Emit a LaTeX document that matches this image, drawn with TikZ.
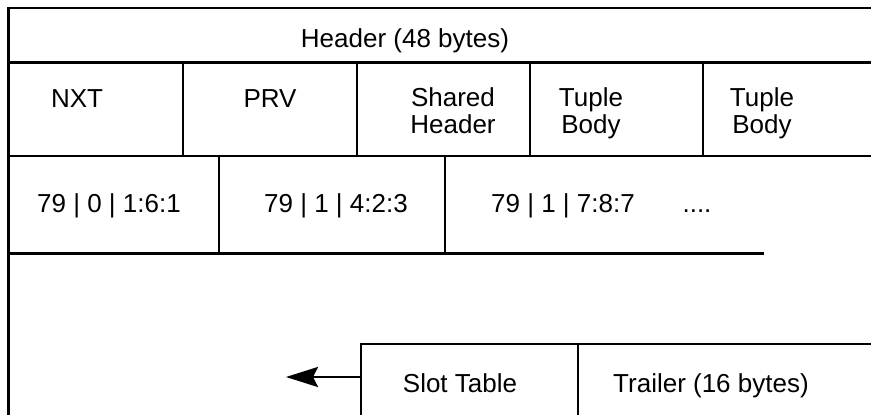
\documentclass[tikz,border=0pt]{standalone}
\usepackage{fontspec}
\setmainfont{Liberation Sans}
\usetikzlibrary{arrows.meta, positioning}

\begin{document}
\begin{tikzpicture}[
    x=1pt, y=-1pt,
    rule/.style={line width=2.8pt, line cap=rect},
    field/.style={font=\fontsize{26}{27}\selectfont, align=center, inner sep=0pt, anchor=base},
    arrow/.style={-{Stealth[length=32pt, width=20pt, inset=5pt]}, line width=2.8pt}
]
\useasboundingbox (0,0) rectangle (871,415);

% page outline and header
\draw[rule] (8.5,420) -- (8.5,8) -- (875,8);
\draw[rule] (8.5,62.5) -- (875,62.5);
\node[field] (header) at (405,47) {Header (48 bytes)};

% first tuple: NXT | PRV | shared header | bodies
\draw[rule] (8.5,156) -- (875,156);
\foreach \x in {183,357,530,703}
    \draw[rule] (\x,62.5) -- (\x,156);
\node[field] (nxt) at (77,107) {NXT};
\node[field] (prv) at (270,107) {PRV};
% two-line fields sit on their second line
\node[field] (shared) at (453,133) {Shared\\Header};
\node[field] (body1) at (591,133) {Tuple\\Body};
\node[field] (body2) at (762,133) {Tuple\\Body};

% tuple ids
\draw[rule] (8.5,253.5) -- (763,253.5);
\foreach \x in {219,445}
    \draw[rule] (\x,156) -- (\x,253.5);
\node[field] (tid1) at (109,212) {79 | 0 | 1:6:1};
\node[field] (tid2) at (336,212) {79 | 1 | 4:2:3};
\node[field] (tid3) at (563,212) {79 | 1 | 7:8:7};
\node[field] (more) at (697,212) {....};

% slot table and trailer
\draw[rule] (361,420) -- (361,344) -- (875,344);
\draw[rule] (578,344) -- (578,420);
\node[field] (slots) at (460,392) {Slot Table};
\node[field] (trailer) at (711,392) {Trailer (16 bytes)};

\coordinate (slot-edge) at (361,377);
\coordinate (grow) at (286,377);
\draw[arrow] (slot-edge) -- (grow);

\end{tikzpicture}
\end{document}
